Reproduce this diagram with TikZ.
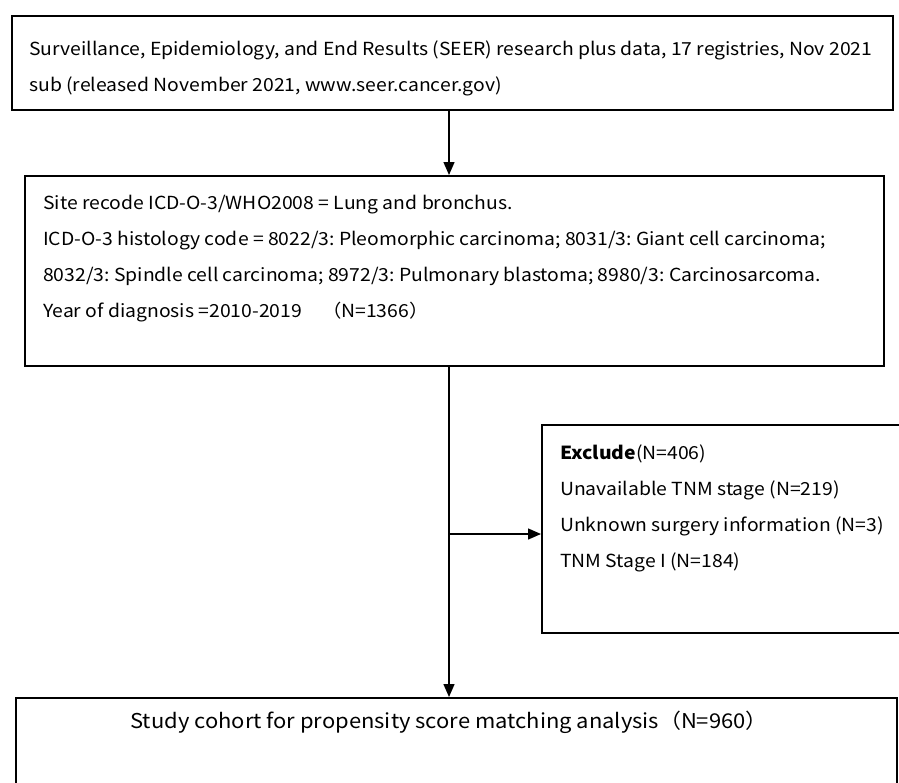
\documentclass[tikz,border=0pt]{standalone}
\usepackage{fontspec}
\newfontfamily\boxfont[FakeStretch=1.076]{Noto Sans CJK SC}
\frenchspacing
\usetikzlibrary{arrows.meta}
\usetikzlibrary{positioning}
\tikzstyle{frame}=[draw, line width=1.6pt, inner sep=0pt]
\tikzstyle{words}=[inner sep=0pt, align=left, anchor=north west, font=\boxfont\fontsize{18}{36}\selectfont]
\tikzstyle{link}=[line width=1.4pt, -{Triangle[length=13pt, width=11pt]}]

\begin{document}
\begin{tikzpicture}[x=1pt, y=-1pt]
          \useasboundingbox (0, 0) rectangle (899, 782);
          \node[frame, minimum width=881pt, minimum height=94pt, anchor=north west] (seer) at (11, 15) {};
          \node[frame, minimum width=859pt, minimum height=190pt, anchor=north west] (site) at (24, 175) {};
          \node[frame, minimum width=389pt, minimum height=208pt, anchor=north west] (exclude) at (541, 424) {};
          \node[frame, minimum width=881pt, minimum height=130pt, anchor=north west] (cohort) at (15, 697) {};
          \node[words] (seertext) at (29, 41)
            {Surveillance, Epidemiology, and End Results (SEER) research plus data, 17 registries, Nov 2021\\
             sub (released November 2021, www.seer.cancer.gov)};
          \node[words] (sitetext) at (43, 195)
            {Site recode ICD-O-3/WHO2008 = Lung and bronchus.\\
             ICD-O-3 histology code = 8022/3: Pleomorphic carcinoma; 8031/3: Giant cell carcinoma;\\
             8032/3: Spindle cell carcinoma; 8972/3: Pulmonary blastoma; 8980/3: Carcinosarcoma.\\
             Year of diagnosis =2010-2019\hspace{20pt}（N=1366）};
          \node[words] (excludetext) at (560, 445)
            {\textbf{Exclude}(N=406)\\
             Unavailable TNM stage (N=219)\\
             Unknown surgery information (N=3)\\
             TNM Stage I (N=184)};
          \node[words, anchor=center, font=\boxfont\fontsize{20.4}{36}\selectfont] (cohorttext) at (449, 722)
            {Study cohort for propensity score matching analysis（N=960）};
          \coordinate (spine) at (449, 0);
          \coordinate (branch) at (449, 534);
          \draw[link] (seer.south -| spine) -- (site.north -| spine);
          \draw[link] (site.south -| spine) -- (cohort.north -| spine);
          \draw[link] (branch) -- (branch -| exclude.west);
        \end{tikzpicture}
\end{document}
